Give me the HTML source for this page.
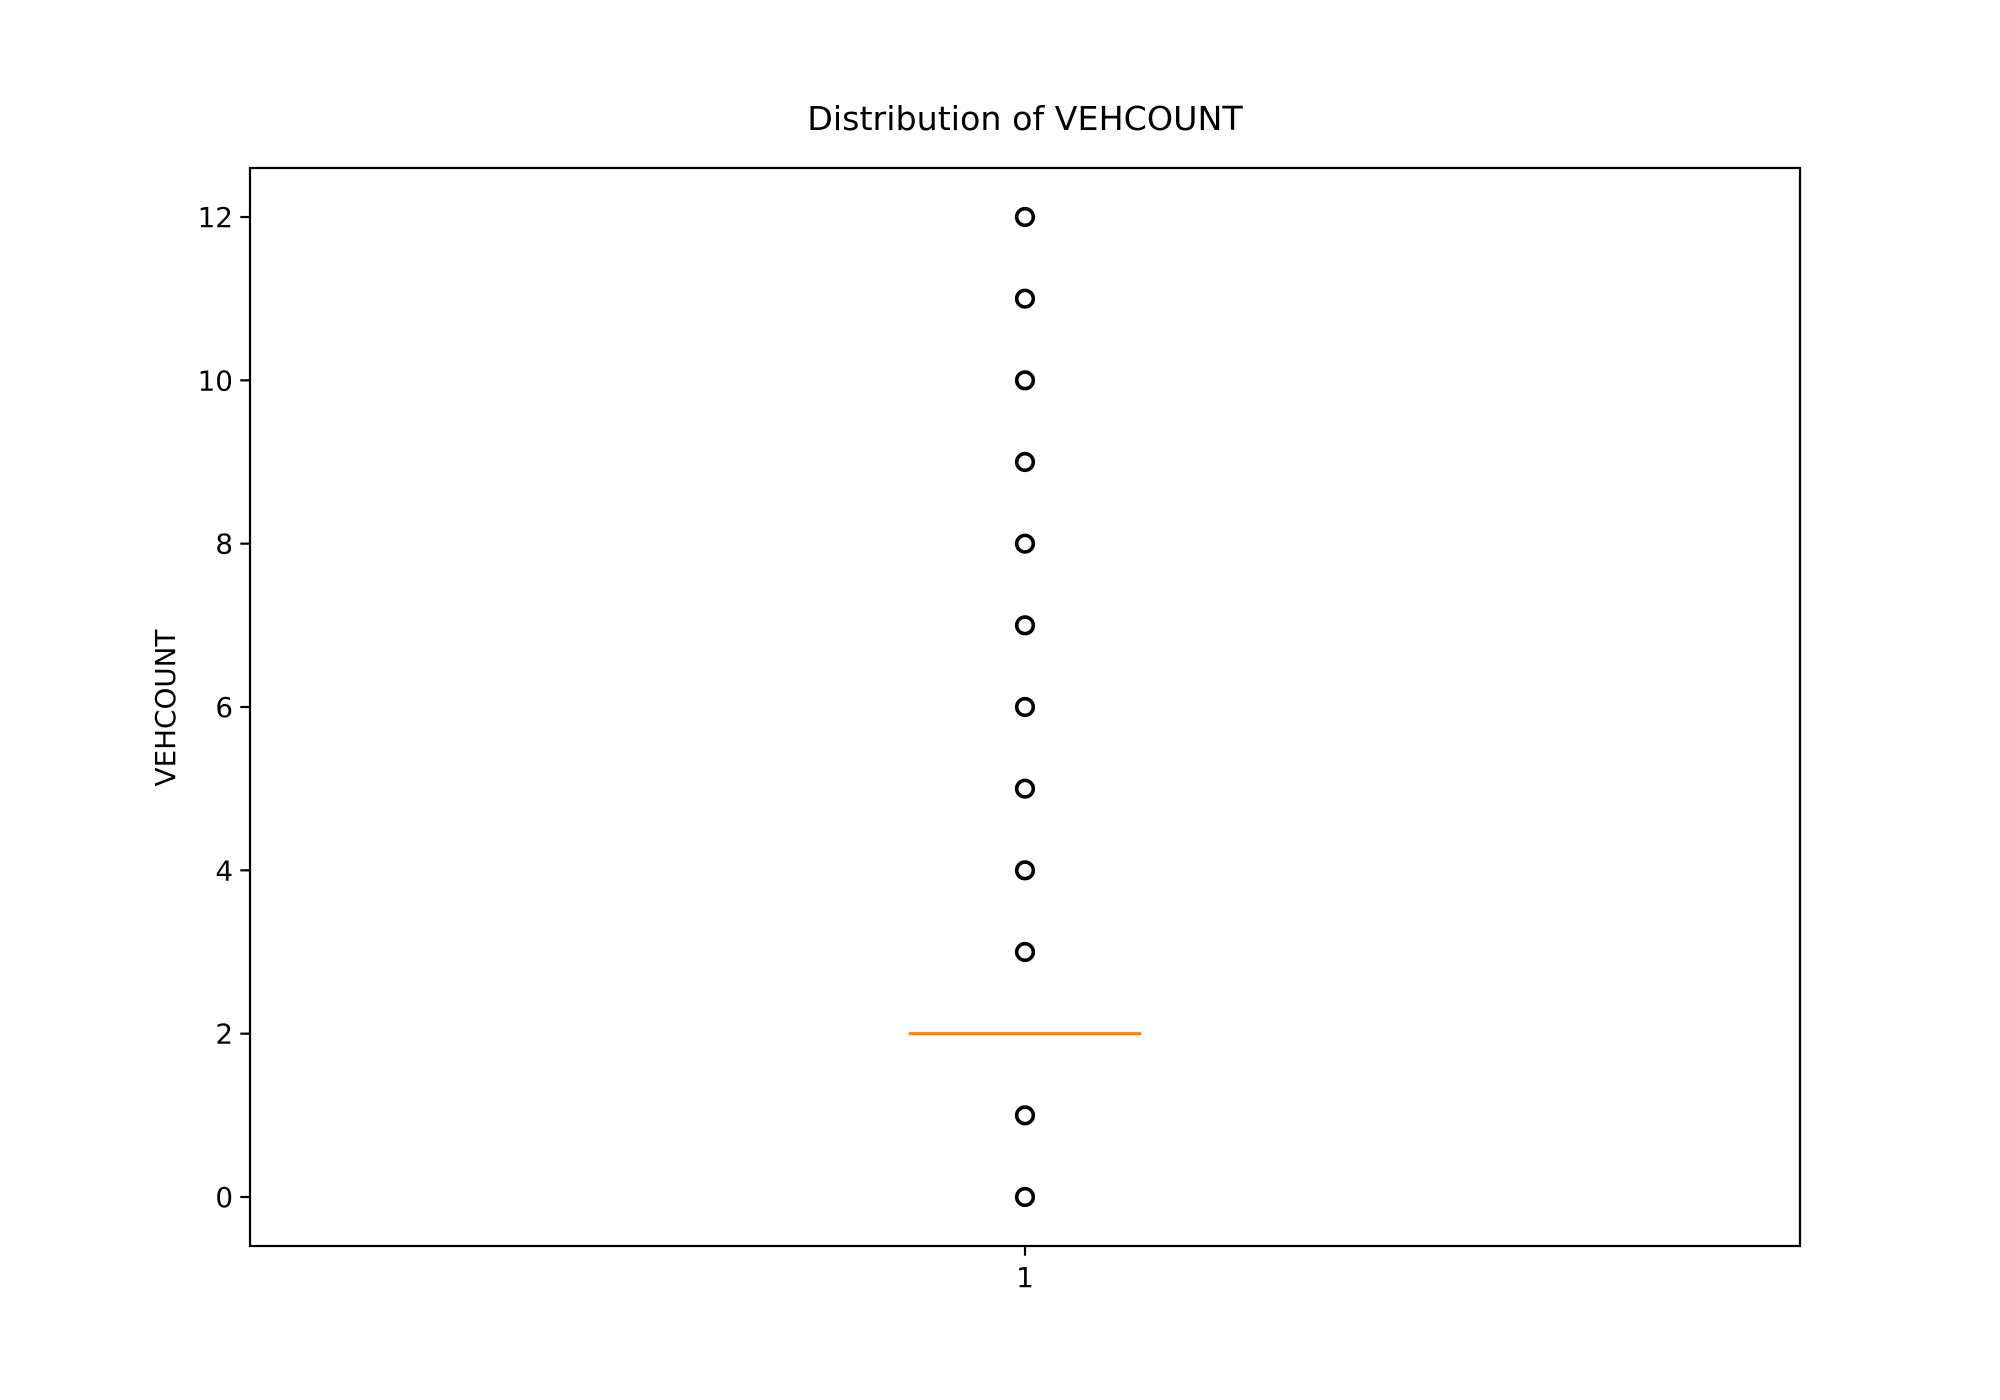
<!DOCTYPE html>
<html><head><meta charset="utf-8"><style>html,body{margin:0;padding:0;background:#fff}svg{display:block}text{font-family:"DejaVu Sans","Liberation Sans",sans-serif;fill:#000}</style></head>
<body>
<svg id="chart" width="2000" height="1400" viewBox="0 0 2000 1400" xmlns="http://www.w3.org/2000/svg">
<rect x="0" y="0" width="2000" height="1400" fill="#fff"/>
<text x="1025" y="130" font-size="33.3" text-anchor="middle">Distribution of VEHCOUNT</text>
<text transform="translate(175,708) rotate(-90)" font-size="27.8" text-anchor="middle">VEHCOUNT</text>
<g id="plot"></g>
<rect x="250" y="168" width="1550" height="1078" fill="none" stroke="#000" stroke-width="2.2"/>
</svg>
<script>
const categories = ["1"];
const medians = [2];
const q1s = [2];
const q3s = [2];
const whiskLo = [2];
const whiskHi = [2];
const outliers = [0, 1, 3, 4, 5, 6, 7, 8, 9, 10, 11, 12];
const yTicks = [0, 2, 4, 6, 8, 10, 12];

const L = 250, R = 1800, T = 168, B = 1246;
const yMin = -0.6, yMax = 12.6, xMin = 0.5, xMax = 1.5;
const ys = v => B - (v - yMin) / (yMax - yMin) * (B - T);
const xs = v => L + (v - xMin) / (xMax - xMin) * (R - L);
const NS = "http://www.w3.org/2000/svg";
const g = document.getElementById('plot');
function mk(tag, attrs) { const e = document.createElementNS(NS, tag); for (const k in attrs) e.setAttribute(k, attrs[k]); g.appendChild(e); return e; }

yTicks.forEach(t => {
  const tk = mk('line', {x1: L - 9.7, x2: L, y1: ys(t), y2: ys(t), stroke: '#000', 'stroke-width': 2.2});
  
  
  const lb = mk('text', {x: L - 17, y: ys(t) + 10, 'font-size': 27.8, 'text-anchor': 'end'});
  lb.textContent = String(t);
  
  
});

categories.forEach((c, i) => {
  const cx = xs(i + 1);
  const tk = mk('line', {x1: cx, x2: cx, y1: B, y2: B + 9.7, stroke: '#000', 'stroke-width': 2.2});
  
  
  const lb = mk('text', {x: cx, y: B + 41, 'font-size': 27.8, 'text-anchor': 'middle'});
  lb.textContent = c;
  
  
  const hw = 0.075 * (R - L) / (xMax - xMin);
  const box = mk('rect', {x: cx - hw, y: ys(q3s[i]), width: 2 * hw, height: Math.max(0, ys(q1s[i]) - ys(q3s[i])), fill: 'none', stroke: '#000', 'stroke-width': 2.2});
  
  
  const w1 = mk('line', {x1: cx, x2: cx, y1: ys(whiskLo[i]), y2: ys(q1s[i]), stroke: '#000', 'stroke-width': 2.2});
  
  
  const w2 = mk('line', {x1: cx, x2: cx, y1: ys(whiskHi[i]), y2: ys(q3s[i]), stroke: '#000', 'stroke-width': 2.2});
  
  
  const md = mk('line', {x1: cx - hw, x2: cx + hw, y1: ys(medians[i]), y2: ys(medians[i]), stroke: '#ff7f0e', 'stroke-width': 3});
  
  
  outliers.forEach(v => {
    const p = mk('circle', {cx: cx, cy: ys(v), r: 8.3, fill: 'none', stroke: '#000', 'stroke-width': 3.6});
    
    
  });
});
</script>
</body></html>
